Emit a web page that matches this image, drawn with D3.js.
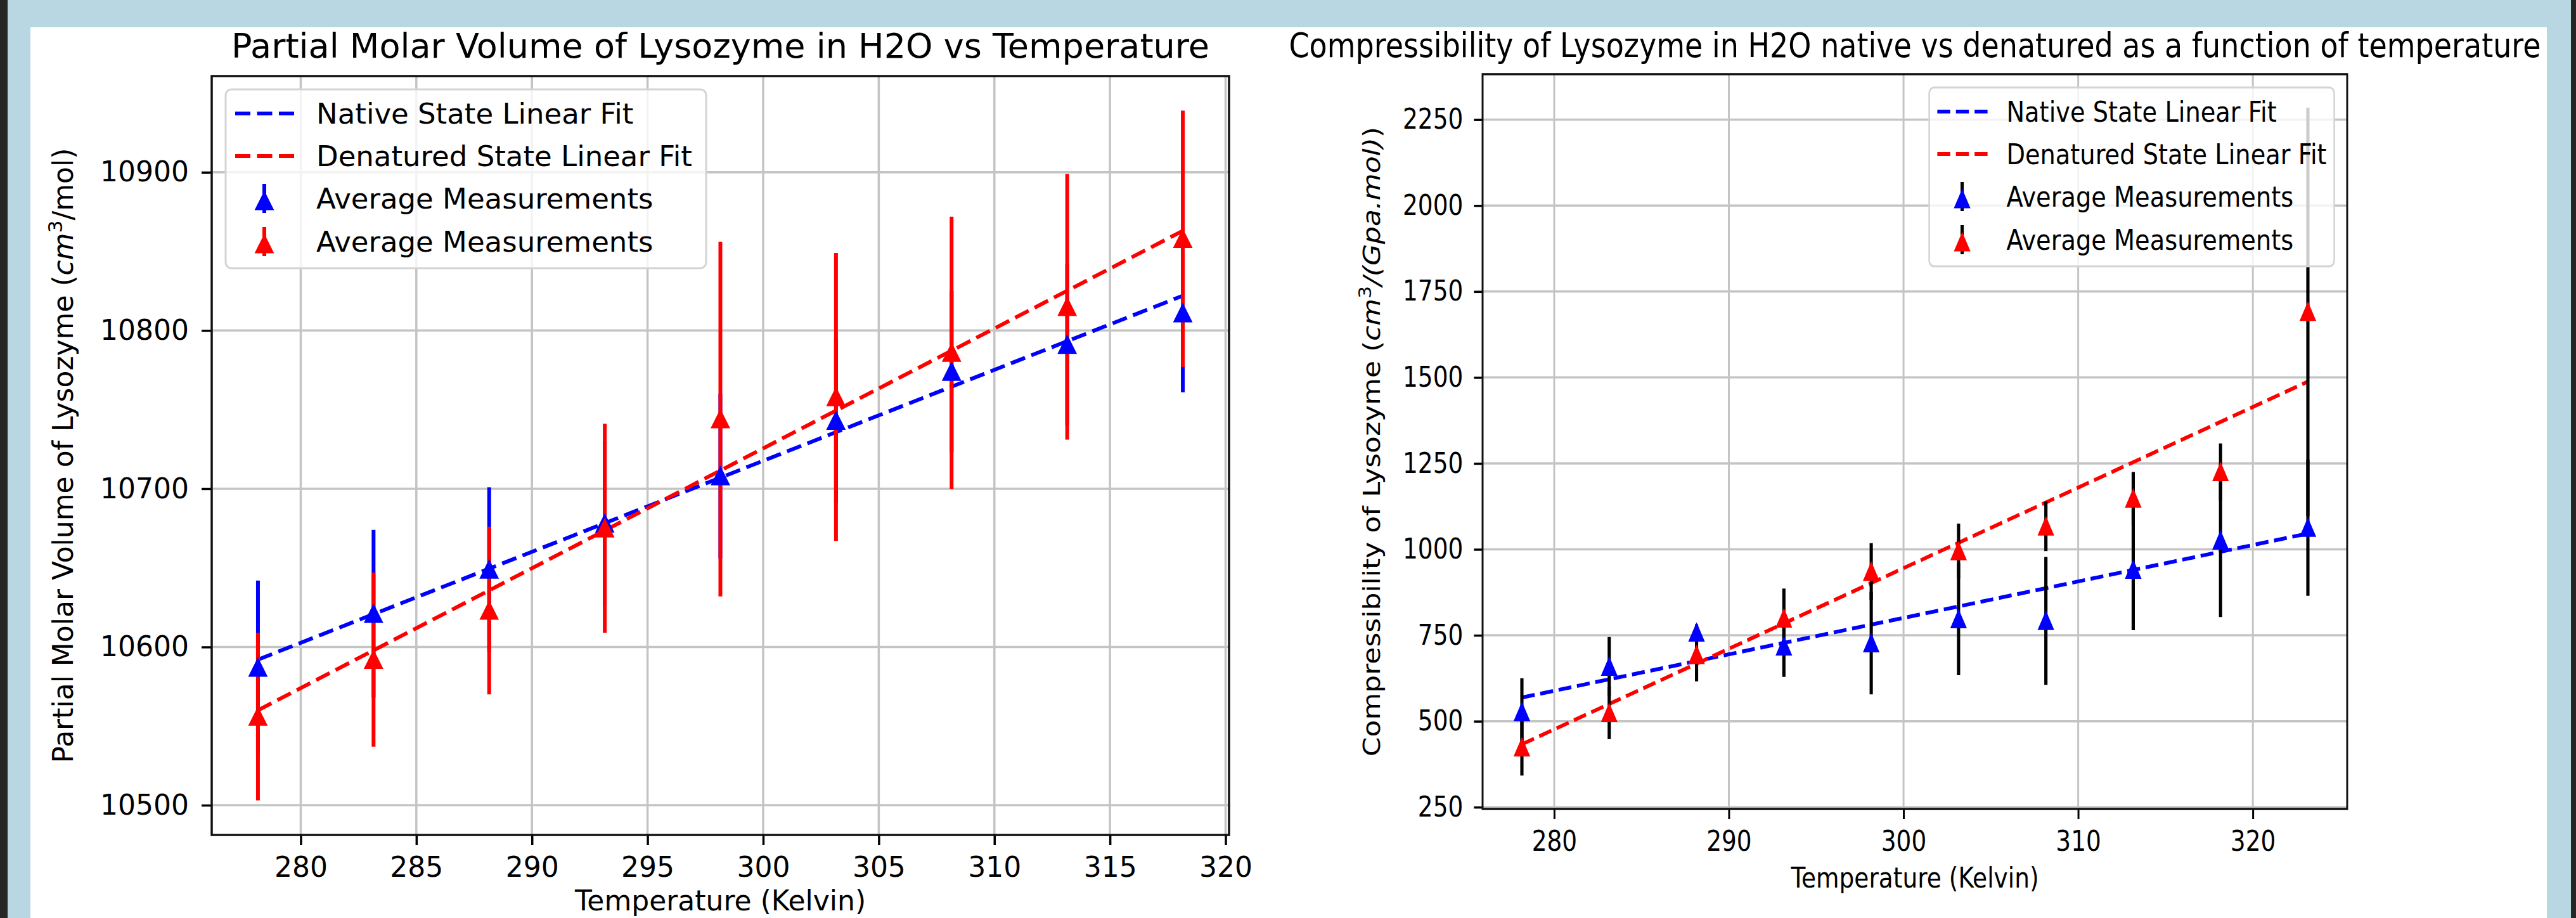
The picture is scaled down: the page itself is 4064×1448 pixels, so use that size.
<!DOCTYPE html>
<html>
<head>
<meta charset="utf-8">
<script src="https://cdn.jsdelivr.net/npm/d3@7"></script>
<style>
  body { margin: 0; background: #b9d7e3; }
  text { font-family: "DejaVu Sans"; fill: #000; }
</style>
</head>
<body>
<svg id="chart" width="4064" height="1448"></svg>
<script>
// ---- partial molar volume panel ----
var volTemps = [278.15, 283.15, 288.15, 293.15, 298.15, 303.15, 308.15, 313.15, 318.15];
var volNative = [10587, 10621, 10649, 10678, 10708, 10743, 10774, 10791, 10811];
var volNativeErr = [55, 53, 52, 52, 52, 52, 51, 51, 50];
var volDenatured = [10556, 10592, 10623, 10675, 10744, 10758, 10786, 10815, 10858];
var volDenaturedErr = [53, 55, 53, 66, 112, 91, 86, 84, 81];
var volNativeFit = [10592, 10822];
var volDenaturedFit = [10560, 10863];
var volXTicks = [280, 285, 290, 295, 300, 305, 310, 315, 320];
var volYTicks = [10500, 10600, 10700, 10800, 10900];

// ---- compressibility panel ----
var compTemps = [278.15, 283.15, 288.15, 293.15, 298.15, 303.15, 308.15, 313.15, 318.15, 323.15];
var compNative = [527, 659, 758, 718, 727, 797, 792, 941, 1026, 1063];
var compNativeErr = [98, 86, 24, 89, 149, 163, 186, 176, 223, 198];
var compDenatured = [424, 524, 693, 799, 935, 995, 1067, 1148, 1225, 1691];
var compDenaturedErr = [82, 76, 77, 87, 83, 80, 72, 77, 83, 594];
var compNativeFit = [569, 1046];
var compDenaturedFit = [433, 1488];
var compXTicks = [280, 290, 300, 310, 320];
var compYTicks = [250, 500, 750, 1000, 1250, 1500, 1750, 2000, 2250];

var legendLabels = ['Native State Linear Fit', 'Denatured State Linear Fit', 'Average Measurements', 'Average Measurements'];

var svg = d3.select('#chart');

// notebook frame
svg.append('rect').attr('width', 4064).attr('height', 1448).attr('fill', '#b9d7e3');
svg.append('rect').attr('width', 12).attr('height', 1448).attr('fill', '#262626');
svg.append('rect').attr('x', 4056).attr('width', 8).attr('height', 1448).attr('fill', '#262626');
svg.append('rect').attr('x', 48).attr('y', 43).attr('width', 3970).attr('height', 1405).attr('fill', '#fff');

function padded(ext) {
  var m = (ext[1] - ext[0]) * 0.05;
  return [ext[0] - m, ext[1] + m];
}

function triangle(s) {
  return 'M0,' + (-s / 2) + 'L' + (s / 2) + ',' + (s / 2) + 'L' + (-s / 2) + ',' + (s / 2) + 'Z';
}

function drawPanel(p) {
  var w = p.width / p.sx;
  var g = svg.append('g').attr('transform', 'translate(' + p.left + ',0) scale(' + p.sx + ',1)');

  var x = d3.scaleLinear().domain(padded(d3.extent(p.temps))).range([0, w]);
  var lows = [], highs = [];
  p.series.forEach(function(s) {
    s.values.forEach(function(v, i) {
      lows.push(v - s.err[i]);
      highs.push(v + s.err[i]);
    });
  });
  var y = d3.scaleLinear().domain(padded([d3.min(lows), d3.max(highs)])).range([p.bottom, p.top]);

  // grid
  g.append('g').selectAll('line').data(p.xTicks).enter().append('line')
    .attr('x1', x).attr('x2', x).attr('y1', p.top).attr('y2', p.bottom)
    .attr('stroke', '#c4c4c4').attr('stroke-width', 3.5);
  g.append('g').selectAll('line').data(p.yTicks).enter().append('line')
    .attr('x1', 0).attr('x2', w).attr('y1', y).attr('y2', y)
    .attr('stroke', '#c4c4c4').attr('stroke-width', 3.5);

  // linear fits
  var line = d3.line().x(function(d) { return x(d[0]); }).y(function(d) { return y(d[1]); });
  p.series.forEach(function(s) {
    var t = [p.temps[0], p.temps[p.temps.length - 1]];
    g.append('path')
      .attr('d', line([[t[0], s.fit[0]], [t[1], s.fit[1]]]))
      .attr('fill', 'none').attr('stroke', s.color)
      .attr('stroke-width', 6).attr('stroke-dasharray', '24,10.5');
  });

  // error bars
  p.series.forEach(function(s) {
    g.append('g').selectAll('line').data(s.values).enter().append('line')
      .attr('x1', function(d, i) { return x(p.temps[i]); })
      .attr('x2', function(d, i) { return x(p.temps[i]); })
      .attr('y1', function(d, i) { return y(d - s.err[i]); })
      .attr('y2', function(d, i) { return y(d + s.err[i]); })
      .attr('stroke', p.ecolor || s.color).attr('stroke-width', 6);
  });

  // markers
  p.series.forEach(function(s) {
    g.append('g').selectAll('path').data(s.values).enter().append('path')
      .attr('d', triangle(26))
      .attr('transform', function(d, i) { return 'translate(' + x(p.temps[i]) + ',' + y(d) + ')'; })
      .attr('fill', s.color).attr('stroke', s.color).attr('stroke-width', 3);
  });

  // axes
  var fmt = d3.format('d');
  var xAxis = g.append('g').attr('transform', 'translate(0,' + p.bottom + ')')
    .call(d3.axisBottom(x).tickValues(p.xTicks).tickFormat(fmt).tickSize(16).tickSizeOuter(0).tickPadding(19));
  var yAxis = g.append('g')
    .call(d3.axisLeft(y).tickValues(p.yTicks).tickFormat(fmt).tickSize(16).tickSizeOuter(0).tickPadding(20));
  [xAxis, yAxis].forEach(function(a) {
    a.attr('font-size', 44).attr('font-family', 'DejaVu Sans');
    a.select('.domain').remove();
    a.selectAll('line').attr('stroke', '#000').attr('stroke-width', 3.5);
    a.selectAll('text').attr('fill', '#000');
  });

  // spines
  g.append('rect').attr('x', 0).attr('y', p.top).attr('width', w).attr('height', p.bottom - p.top)
    .attr('fill', 'none').attr('stroke', '#111').attr('stroke-width', 3.5);

  // legend
  var lg = g.append('g').attr('transform', 'translate(' + p.legendX + ',' + (p.top + 21) + ')');
  lg.append('rect').attr('width', p.legendW).attr('height', 282).attr('rx', 9)
    .attr('fill', '#fff').attr('fill-opacity', 0.8)
    .attr('stroke', '#d4d4d4').attr('stroke-width', 3);
  var rows = [38, 105, 172, 240];
  var entries = [
    { kind: 'line', color: p.series[0].color },
    { kind: 'line', color: p.series[1].color },
    { kind: 'marker', color: p.series[0].color },
    { kind: 'marker', color: p.series[1].color }
  ];
  entries.forEach(function(e, i) {
    var r = lg.append('g').attr('transform', 'translate(0,' + rows[i] + ')');
    if (e.kind === 'line') {
      r.append('line').attr('x1', 15).attr('x2', 109).attr('y1', 0).attr('y2', 0)
        .attr('stroke', e.color).attr('stroke-width', 6).attr('stroke-dasharray', '24,10.5');
    } else {
      r.append('line').attr('x1', 61).attr('x2', 61).attr('y1', -23).attr('y2', 23)
        .attr('stroke', p.ecolor || e.color).attr('stroke-width', 6);
      r.append('path').attr('d', triangle(26)).attr('transform', 'translate(61,4)')
        .attr('fill', e.color).attr('stroke', e.color).attr('stroke-width', 3);
    }
    r.append('text').attr('x', 143).attr('y', 16).attr('font-size', 45).text(legendLabels[i]);
  });

  // title and axis labels
  g.append('text').attr('x', w / 2).attr('y', p.titleY).attr('text-anchor', 'middle')
    .attr('font-size', 54).text(p.title);
  g.append('text').attr('x', w / 2).attr('y', Math.min(p.bottom + 124, 1436)).attr('text-anchor', 'middle')
    .attr('font-size', 44).text('Temperature (Kelvin)');

  var yl = g.append('text')
    .attr('transform', 'translate(' + p.ylabelX + ',' + (p.top + p.bottom) / 2 + ') rotate(-90)')
    .attr('text-anchor', 'middle').attr('font-size', 44);
  var lift = 0;
  p.ylabel.forEach(function(part) {
    var ts = yl.append('tspan').text(part[0]);
    if (part[1] === 'i') ts.attr('font-style', 'italic');
    if (part[1] === 'sup') {
      ts.attr('font-size', 31).attr('dy', -17);
      lift = 17;
    } else if (lift) {
      ts.attr('dy', lift);
      lift = 0;
    }
  });
}

drawPanel({
  left: 334, width: 1605, sx: 1, top: 120, bottom: 1317,
  temps: volTemps, xTicks: volXTicks, yTicks: volYTicks,
  series: [
    { values: volNative, err: volNativeErr, fit: volNativeFit, color: '#0000ff' },
    { values: volDenatured, err: volDenaturedErr, fit: volDenaturedFit, color: '#ff0000' }
  ],
  legendX: 22, legendW: 758, titleY: 91, ylabelX: -219,
  title: 'Partial Molar Volume of Lysozyme in H2O vs Temperature',
  ylabel: [['Partial Molar Volume of Lysozyme (', ''], ['cm', 'i'], ['3', 'sup'], ['/mol)', '']]
});

drawPanel({
  left: 2339, width: 1364, sx: 0.852, top: 117, bottom: 1276,
  temps: compTemps, xTicks: compXTicks, yTicks: compYTicks,
  series: [
    { values: compNative, err: compNativeErr, fit: compNativeFit, color: '#0000ff' },
    { values: compDenatured, err: compDenaturedErr, fit: compDenaturedFit, color: '#ff0000' }
  ],
  ecolor: '#000',
  legendX: 827, legendW: 750, titleY: 90, ylabelX: -190,
  title: 'Compressibility of Lysozyme in H2O native vs denatured as a function of temperature',
  ylabel: [['Compressibility of Lysozyme (', ''], ['cm', 'i'], ['3', 'sup'], ['/(Gpa.mol)', 'i'], [')', '']]
});
</script>
</body>
</html>
